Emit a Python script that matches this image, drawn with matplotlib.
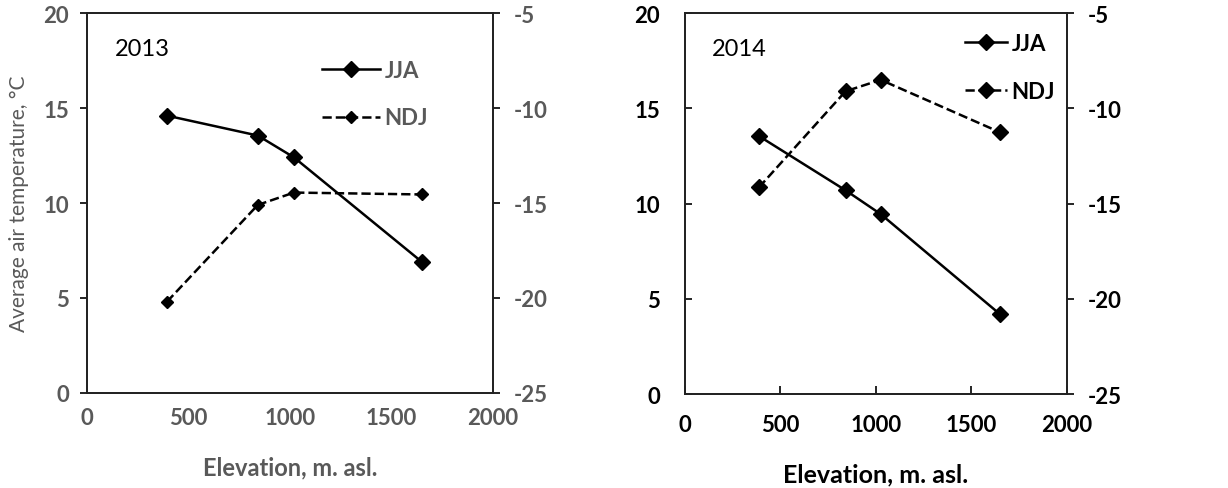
import numpy as np
import matplotlib.pyplot as plt
from matplotlib.lines import Line2D

plt.rcParams['font.family'] = ['Lato', 'DejaVu Sans']
plt.rcParams['axes.unicode_minus'] = False

# ---------------------------- data ---------------------------- #
elev_2013 = [394, 842, 1020, 1650]
jja_2013 = [14.6, 13.55, 12.4, 6.9]
ndj_2013 = [-20.2, -15.1, -14.45, -14.55]

elev_2014 = [387, 841, 1025, 1649]
jja_2014 = [13.55, 10.7, 9.45, 4.2]
ndj_2014 = [-14.15, -9.1, -8.5, -11.25]

x_ticks = [0, 500, 1000, 1500, 2000]
left_ticks = [0, 5, 10, 15, 20]
right_ticks = [-25, -20, -15, -10, -5]

GRAY = '#595959'


def panel(rect, year, elev, jja, ndj, tcol, left_dir, xpad, lpad, leg_anchor):
    ax = fig.add_axes(rect)
    ax2 = ax.twinx()
    ms_ndj = 6 if year == '2013' else 8
    ax.plot(elev, jja, '-', color='black', lw=1.8, marker='D', ms=8)
    ax2.plot(elev, ndj, '--', color='black', lw=1.8, marker='D', ms=ms_ndj)
    ax.set_xlim(0, 2000)
    ax.set_ylim(0, 20)
    ax2.set_ylim(-25, -5)
    ax.set_xticks(x_ticks)
    ax.set_yticks(left_ticks)
    ax2.set_yticks(right_ticks)
    for a in (ax, ax2):
        for s in a.spines.values():
            s.set_linewidth(1.3)
            s.set_color('#222222')
    ax.tick_params(axis='y', direction=left_dir, length=5, width=1.2,
                   labelsize=16, labelcolor=tcol, pad=lpad)
    ax.tick_params(axis='x', direction='in', length=6, width=1.2,
                   labelsize=16, labelcolor=tcol, pad=xpad)
    ax2.tick_params(axis='y', direction='out', length=5, width=1.2,
                    labelsize=16, labelcolor=tcol, pad=10)
    for lab in ax.get_xticklabels() + ax.get_yticklabels() + ax2.get_yticklabels():
        lab.set_fontweight('bold')
    ax.text(0.07, 0.89, year, transform=ax.transAxes, fontsize=17, color='black')
    handles = [
        Line2D([], [], color='black', lw=1.8, ls='-', marker='D', ms=8),
        Line2D([], [], color='black', lw=1.8, ls='--', marker='D', ms=ms_ndj),
    ]
    leg = ax.legend(handles, ['JJA', 'NDJ'], loc='upper left',
                    bbox_to_anchor=leg_anchor, frameon=False,
                    fontsize=16, labelspacing=1.2,
                    handlelength=2.6 if year == '2013' else 1.9,
                    handletextpad=0.2)
    for t in leg.get_texts():
        t.set_fontweight('bold')
        t.set_color(tcol)
    return ax, ax2


fig = plt.figure(figsize=(12.28, 4.89), dpi=100)

axL, _ = panel([0.0708, 0.1943, 0.3306, 0.777], '2013', elev_2013, jja_2013,
               ndj_2013, GRAY, 'out', 10, 8, (0.53, 0.93))
axL.tick_params(axis='x', length=0)
axL.set_xlabel('Elevation, m. asl.', fontsize=17, fontweight='bold',
               color=GRAY, labelpad=20)
axL.set_ylabel('Average air temperature, \u00b0C', fontsize=15, color=GRAY,
               labelpad=10)

axR, _ = panel([0.5578, 0.192, 0.311, 0.779], '2014', elev_2014, jja_2014,
               ndj_2014, 'black', 'in', 14, 18, (0.68, 1.0))
axR.set_xlabel('Elevation, m. asl.', fontsize=18, fontweight='bold',
               color='black', labelpad=20)

fig.savefig('out.png', dpi=100)
